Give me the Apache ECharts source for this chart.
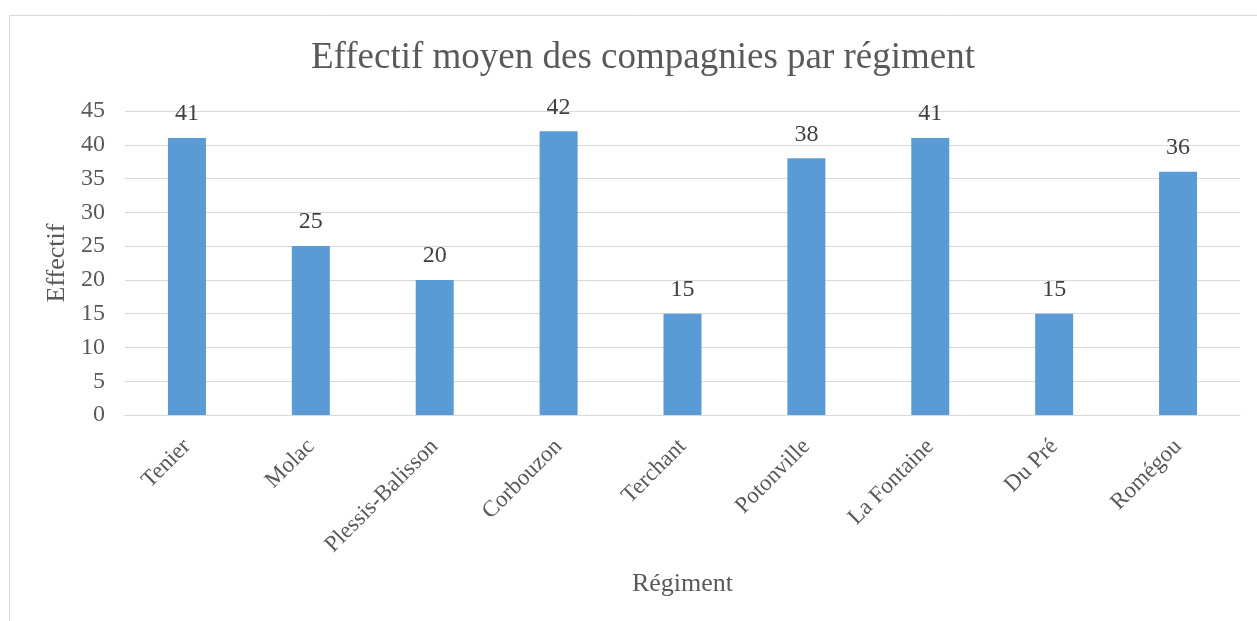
<!DOCTYPE html>
<html>
<head>
<meta charset="utf-8">
<script src="https://cdn.jsdelivr.net/npm/echarts@6/dist/echarts.min.js"></script>
<style>
  html, body { margin: 0; padding: 0; background: #ffffff; }
  #chart { width: 1257px; height: 621px; }
</style>
</head>
<body>
<div id="chart"></div>
<script>
// Regiments and the average company strength of each
const regiments = ['Tenier', 'Molac', 'Plessis-Balisson', 'Corbouzon', 'Terchant', 'Potonville', 'La Fontaine', 'Du Pré', 'Romégou'];
const effectifs = [41, 25, 20, 42, 15, 38, 41, 15, 36];
const yTicks = { min: 0, max: 45, step: 5 };

const serif = '"Liberation Serif", "Times New Roman", serif';
const chart = echarts.init(document.getElementById('chart'), null, { renderer: 'canvas' });

chart.setOption({
  backgroundColor: '#ffffff',
  animation: false,
  graphic: [{
    type: 'rect',
    shape: { x: 9.5, y: 15.5, width: 1400, height: 800 },
    style: { fill: 'none', stroke: '#d9d9d9', lineWidth: 1 },
    silent: true
  }],
  title: {
    text: 'Effectif moyen des compagnies par régiment',
    left: 638,
    top: 35,
    textAlign: 'center',
    textStyle: { fontFamily: serif, fontSize: 37, fontWeight: 'normal', color: '#595959' }
  },
  grid: { left: 125, right: 17, top: 111, bottom: 206, containLabel: false },
  xAxis: {
    type: 'category',
    data: regiments,
    name: 'Régiment',
    nameLocation: 'middle',
    nameGap: 156,
    nameTextStyle: { fontFamily: serif, fontSize: 26, color: '#595959' },
    axisLine: { show: true, lineStyle: { color: '#d9d9d9', width: 1 } },
    axisTick: { show: false },
    axisLabel: { rotate: 45, interval: 0, margin: 28, fontFamily: serif, fontSize: 23, color: '#595959' }
  },
  yAxis: {
    type: 'value',
    min: yTicks.min,
    max: yTicks.max,
    interval: yTicks.step,
    name: 'Effectif',
    nameLocation: 'middle',
    nameGap: 52,
    nameRotate: 90,
    nameTextStyle: { fontFamily: serif, fontSize: 26, color: '#595959' },
    axisLine: { show: false },
    axisTick: { show: false },
    axisLabel: { margin: 20, fontFamily: serif, fontSize: 24, color: '#595959' },
    splitLine: { lineStyle: { color: '#d9d9d9', width: 1 } }
  },
  series: [{
    type: 'bar',
    data: effectifs,
    barWidth: 38,
    itemStyle: { color: '#5b9bd5' },
    label: {
      show: true,
      position: 'top',
      distance: 12,
      fontFamily: serif,
      fontSize: 24,
      color: '#404040'
    }
  }]
});
</script>
</body>
</html>
